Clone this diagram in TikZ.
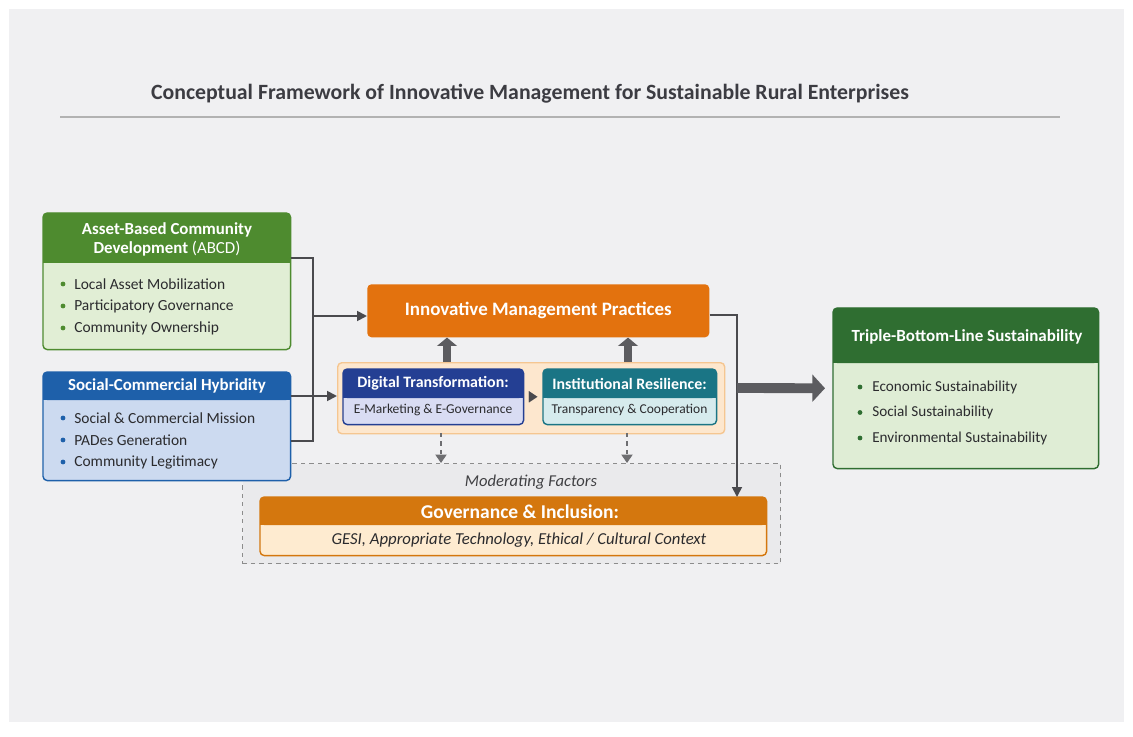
\documentclass[tikz,border=0pt]{standalone}
\usepackage{fontspec}
\setmainfont{Carlito}
\usetikzlibrary{arrows.meta,positioning,calc}
\usepackage{xcolor}
\definecolor{pagegrey}{HTML}{F0F0F2}
\definecolor{inkdark}{HTML}{2B2B2E}
\definecolor{titlegrey}{HTML}{3C3C42}
\definecolor{wiregrey}{HTML}{4A4A4E}
\definecolor{abcdhead}{HTML}{4E8B2F}
\definecolor{abcdbody}{HTML}{E1EED5}
\definecolor{hybhead}{HTML}{1E60AA}
\definecolor{hybbody}{HTML}{CCDAF0}
\definecolor{impor}{HTML}{E3720E}
\definecolor{hubfill}{HTML}{FDE7CE}
\definecolor{hubline}{HTML}{F5C691}
\definecolor{dighead}{HTML}{243F93}
\definecolor{digbody}{HTML}{D9DCF3}
\definecolor{reshead}{HTML}{1A7585}
\definecolor{resbody}{HTML}{D6EBED}
\definecolor{tblhead}{HTML}{2F6E31}
\definecolor{tblbody}{HTML}{DFEDD5}
\definecolor{govhead}{HTML}{D4770E}
\definecolor{govbody}{HTML}{FEEBD0}
\definecolor{modfill}{HTML}{EAEAEC}

% header strip of a block: rounded on top, square below, then the frame
\newcommand{\headpart}[3]{%
  \fill[#3, rounded corners=3pt] (#1.north west) rectangle ($(#1.north east)+(0,#2)$);
  \fill[#3] ($(#1.north west)+(0,#2-6)$) rectangle ($(#1.north east)+(0,#2)$);
  \draw[#3, line width=1pt, rounded corners=3pt] (#1.north west) rectangle (#1.south east);}

\tikzset{
  block/.style={rounded corners=3pt, anchor=north west, inner sep=0pt},
  headtxt/.style={text=white, font=\bfseries\fontsize{12}{14}\selectfont, align=center},
  item/.style={anchor=west, text=inkdark, inner sep=0pt, font=\fontsize{11}{13}\selectfont},
  wire/.style={draw=wiregrey, line width=1.3pt},
  link/.style={wire, -{Triangle[length=7pt,width=7pt]}},
  fat/.style={draw=wiregrey!90, line width=7pt, -{Triangle[length=9pt,width=19pt]}},
  uparrow/.style={draw=wiregrey!90, line width=5pt, -{Triangle[length=6pt,width=14pt]}},
  dlink/.style={draw=wiregrey!80, line width=0.9pt, dashed, -{Triangle[length=6pt,width=8pt]}}
}

\begin{document}
\begin{tikzpicture}[x=0.25mm, y=-0.25mm]
  \useasboundingbox (0,0) rectangle (1133,737);
  \fill[white] (0,0) rectangle (1133,737);
  \fill[pagegrey] (9,9) rectangle (1124,722);

  % title and rule
  \node[text=titlegrey, font=\bfseries\fontsize{15.5}{18}\selectfont] (title) at (530,94)
    {Conceptual Framework of Innovative Management for Sustainable Rural Enterprises};
  \draw[black!30, line width=0.8pt] (60,117) -- (1060,117);

  % moderating factors frame
  \node[block, fill=modfill, draw=black!45, dashed, line width=0.8pt, rounded corners=0pt,
    minimum width=134.5mm, minimum height=25mm] (modbox) at (242,463) {};
  \node[text=inkdark!90, font=\itshape\fontsize{11.8}{14}\selectfont] (modlabel) at (531,482) {Moderating Factors};

  % ABCD
  \node[block, fill=abcdbody, minimum width=61.75mm, minimum height=34mm] (abcd) at (43,213) {};
  \headpart{abcd}{50}{abcdhead}
  \node[headtxt] (abcdtitle) at (167,239.5) {Asset-Based Community\\Development {\mdseries(ABCD)}};
  \foreach \txt [count=\k] in {Local Asset Mobilization, Participatory Governance, Community Ownership} {
    \fill[abcdhead] (63,262+22*\k) circle (0.6mm);
    \node[item] at (74,262+22*\k) {\txt};
  }

  % social-commercial hybridity
  \node[block, fill=hybbody, minimum width=61.75mm, minimum height=27mm] (hybrid) at (43,372) {};
  \headpart{hybrid}{28}{hybhead}
  \node[headtxt] (hybtitle) at (167,386) {Social-Commercial Hybridity};
  \foreach \txt [count=\k] in {Social \& Commercial Mission, PADes Generation, Community Legitimacy} {
    \fill[hybhead] (63,396+22*\k) circle (0.6mm);
    \node[item] at (74,396+22*\k) {\txt};
  }

  % innovative management practices
  \node[block, fill=impor, minimum width=85.5mm, minimum height=13.25mm] (imp) at (367,284) {};
  \node[headtxt, font=\bfseries\fontsize{13.5}{16}\selectfont] (imptitle) at (imp.center) {Innovative Management Practices};

  % practice strip
  \node[block, fill=hubfill, draw=hubline, line width=1pt, minimum width=96.75mm, minimum height=17.75mm] (hub) at (337,362) {};
  \node[block, fill=digbody, minimum width=45mm, minimum height=13.75mm] (digital) at (343,369) {};
  \headpart{digital}{29}{dighead}
  \node[headtxt, font=\bfseries\fontsize{11.3}{13}\selectfont] at (433,383.5) {Digital Transformation:};
  \node[text=inkdark, font=\fontsize{9.6}{11}\selectfont] at (433,410) {E-Marketing \& E-Governance};
  \node[block, fill=resbody, minimum width=43.25mm, minimum height=13.75mm] (resil) at (543,369) {};
  \headpart{resil}{29}{reshead}
  \node[headtxt, font=\bfseries\fontsize{11.3}{13}\selectfont] at (629.5,383.5) {Institutional Resilience:};
  \node[text=inkdark, font=\fontsize{9.6}{11}\selectfont] at (629.5,410) {Transparency \& Cooperation};

  % triple bottom line
  \node[block, fill=tblbody, minimum width=66.25mm, minimum height=40mm] (tbl) at (833,308) {};
  \headpart{tbl}{55}{tblhead}
  \node[headtxt, font=\bfseries\fontsize{12.1}{14}\selectfont] (tbltitle) at (967,337) {Triple-Bottom-Line Sustainability};
  \foreach \txt [count=\k] in {Economic Sustainability, Social Sustainability, Environmental Sustainability} {
    \fill[tblhead] (860,361.5+25.5*\k) circle (0.6mm);
    \node[item, font=\fontsize{10.8}{13}\selectfont] at (872,361.5+25.5*\k) {\txt};
  }

  % governance and inclusion
  \node[block, fill=govbody, minimum width=126.5mm, minimum height=14.5mm] (gov) at (260,497) {};
  \headpart{gov}{28}{govhead}
  \node[headtxt, font=\bfseries\fontsize{13.9}{16}\selectfont] (govtitle) at (520,512) {Governance \& Inclusion:};
  \node[text=inkdark, font=\itshape\fontsize{11.9}{14}\selectfont] (govtext) at (519,540)
    {GESI, Appropriate Technology, Ethical / Cultural Context};

  % connectors
  \coordinate (join) at (313,316);
  \draw[wire] ($(abcd.north east)+(0,45)$) -| (join) |- ($(hybrid.north east)+(0,69)$);
  \draw[link] (join) -- (imp.west |- join);
  \draw[link] ($(hybrid.north east)+(0,24)$) -- (hub.west |- 0,396);
  \coordinate (drop) at (737,497);
  \draw[link] ($(imp.north east)+(0,31)$) -| (drop);
  \coordinate (fork) at (737,388);
  \draw[fat, shorten >=2mm] (fork) -- (tbl.west);
  \coordinate (upA) at (447,362);
  \coordinate (upB) at (628,362);
  \draw[uparrow] (upA) -- (upA |- imp.south);
  \draw[uparrow] (upB) -- (upB |- imp.south);
  \draw[wiregrey, line width=0.01pt, -{Triangle[length=6pt,width=8pt]}, shorten <=4pt, shorten >=4pt] (digital.east) -- (resil.west);
  \coordinate (dnA) at (441,433);
  \coordinate (dnB) at (627,433);
  \draw[dlink] (dnA) -- (dnA |- modbox.north);
  \draw[dlink] (dnB) -- (dnB |- modbox.north);
\end{tikzpicture}
\end{document}
